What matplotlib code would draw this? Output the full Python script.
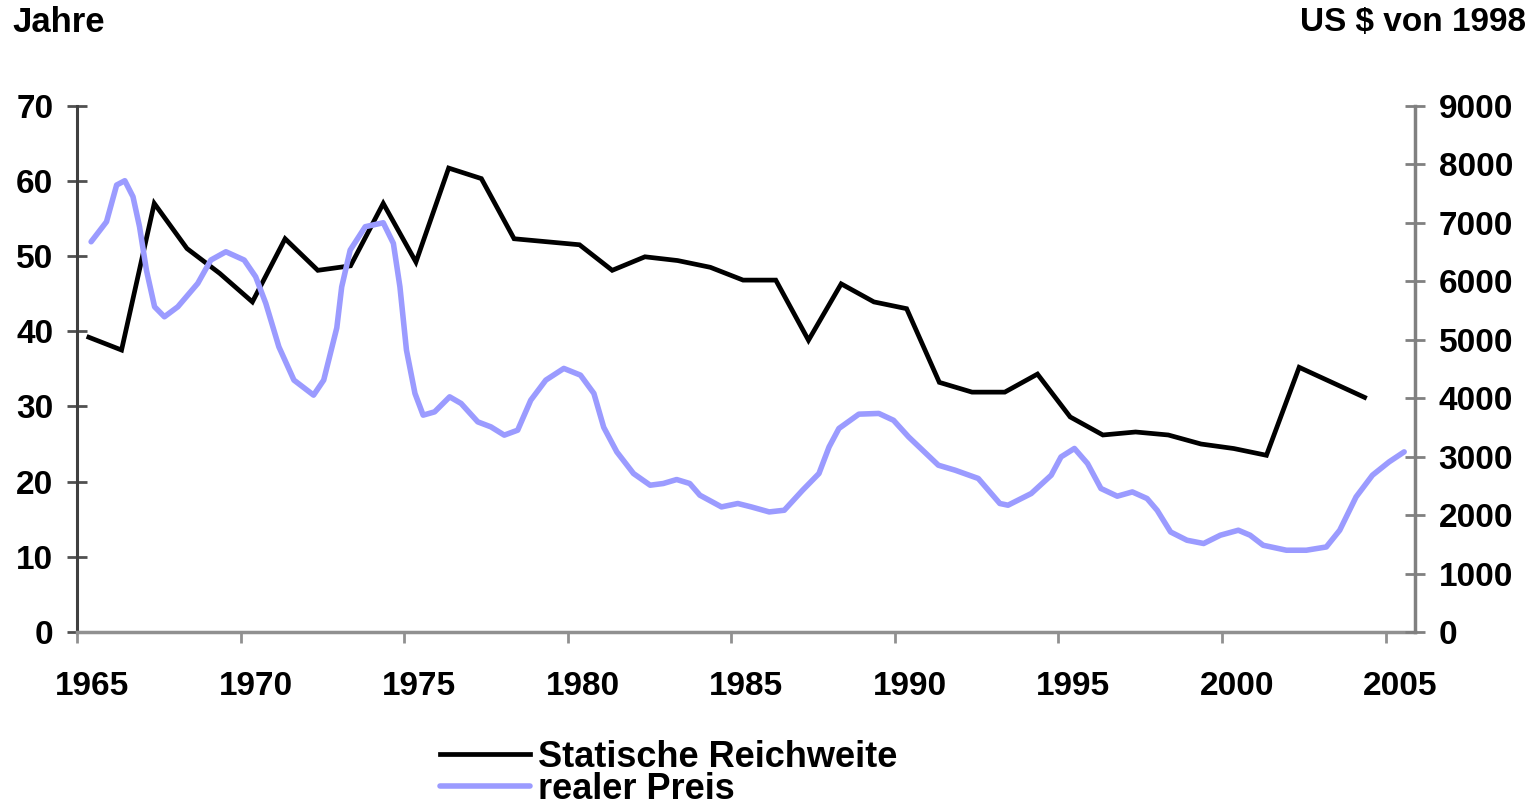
import matplotlib
matplotlib.use("Agg")
import matplotlib.pyplot as plt
import numpy as np
from matplotlib.transforms import ScaledTranslation

plt.rcParams['font.family'] = ['Liberation Sans', 'DejaVu Sans']
plt.rcParams['font.weight'] = 'bold'

# static range (years), one value per year 1965-2004
years = np.arange(1965, 2005)
reichweite = [39.2, 37.5, 57.0, 51.0, 47.7, 43.9, 52.3, 48.1, 48.7, 57.0,
              49.2, 61.7, 60.3, 52.3, 51.9, 51.5, 48.1, 49.9, 49.4, 48.5,
              46.8, 46.8, 38.8, 46.3, 43.9, 43.0, 33.2, 31.9, 31.9, 34.3,
              28.6, 26.2, 26.6, 26.2, 25.0, 24.4, 23.5, 35.2, 33.2, 31.2]

preis_t = [1965.43, 1965.90, 1966.21, 1966.46, 1966.71, 1966.91, 1967.12, 1967.37,
           1967.67, 1968.08, 1968.69, 1969.09, 1969.55, 1970.11, 1970.46, 1970.77,
           1971.17, 1971.63, 1972.23, 1972.54, 1972.94, 1973.09, 1973.35, 1973.81,
           1974.36, 1974.67, 1974.87, 1975.07, 1975.33, 1975.58, 1975.93, 1976.39,
           1976.74, 1977.25, 1977.65, 1978.06, 1978.47, 1978.87, 1979.33, 1979.88,
           1980.39, 1980.80, 1981.10, 1981.50, 1982.01, 1982.52, 1982.92, 1983.33,
           1983.73, 1984.04, 1984.70, 1985.20, 1985.61, 1986.16, 1986.62, 1987.18,
           1987.68, 1987.99, 1988.29, 1988.90, 1989.51, 1989.96, 1990.42, 1991.33,
           1991.84, 1992.55, 1993.21, 1993.46, 1994.17, 1994.78, 1995.08, 1995.49,
           1995.89, 1996.30, 1996.80, 1997.26, 1997.71, 1998.02, 1998.43, 1998.93,
           1999.44, 1999.95, 2000.50, 2000.86, 2001.26, 2001.97, 2002.58, 2003.19,
           2003.60, 2004.10, 2004.60, 2005.11, 2005.57]
preis = [6673, 7015, 7643, 7717, 7443, 6930, 6189, 5561,
         5390, 5561, 5961, 6360, 6502, 6360, 6074, 5619,
         4876, 4307, 4050, 4307, 5200, 5900, 6531, 6930,
         6998, 6645, 5903, 4820, 4079, 3708, 3764, 4021,
         3908, 3593, 3508, 3366, 3451, 3964, 4307, 4507,
         4392, 4079, 3500, 3080, 2710, 2510, 2539, 2607,
         2539, 2339, 2139, 2197, 2139, 2053, 2082, 2424,
         2710, 3165, 3480, 3725, 3737, 3620, 3336, 2852,
         2767, 2625, 2197, 2168, 2368, 2681, 2994, 3138,
         2881, 2454, 2322, 2395, 2282, 2080, 1710, 1569,
         1513, 1655, 1740, 1655, 1483, 1398, 1398, 1454,
         1740, 2310, 2681, 2909, 3080]

xticks = [1965, 1970, 1975, 1980, 1985, 1990, 1995, 2000, 2005]

fig = plt.figure(figsize=(15.35, 8.06), dpi=100)
ax = fig.add_axes([0.0502, 0.2159, 0.8716, 0.653])
ax2 = ax.twinx()

ax.plot(years + 0.36, reichweite, color='black', lw=3.4,
        solid_joinstyle='miter', label='Statische Reichweite')
ax2.plot(preis_t, preis, color='#9b9bff', lw=4.0,
         solid_joinstyle='round', solid_capstyle='round', label='realer Preis')

ax.set_xlim(1965, 2005.9)
ax.set_ylim(0, 70)
ax2.set_ylim(0, 9000)
ax.set_yticks(np.arange(0, 71, 10))
ax2.set_yticks(np.arange(0, 9001, 1000))
ax.set_xticks(xticks)

for a in (ax, ax2):
    a.spines['top'].set_visible(False)
ax.spines['right'].set_visible(False)
ax.spines['left'].set_color('#404040')
ax.spines['left'].set_linewidth(2.2)
ax.spines['bottom'].set_color('#909090')
ax.spines['bottom'].set_linewidth(2.5)
ax2.spines['left'].set_visible(False)
ax2.spines['bottom'].set_visible(False)
ax2.spines['right'].set_color('#808080')
ax2.spines['right'].set_linewidth(2.5)

fs = 24
ax.tick_params(axis='y', direction='inout', length=14, width=2, color='#505050',
               labelsize=fs, pad=10)
ax2.tick_params(axis='y', direction='inout', length=14, width=2, color='#808080',
                labelsize=fs, pad=10)
ax.tick_params(axis='x', direction='out', length=8, width=2, color='#909090',
               labelsize=fs, pad=20)
for lab in ax.get_xticklabels():
    lab.set_transform(lab.get_transform() + ScaledTranslation(0.15, 0, fig.dpi_scale_trans))

fig.text(0.008, 0.972, 'Jahre', fontsize=25, va='center', ha='left')
fig.text(0.994, 0.972, 'US $ von 1998', fontsize=fs, va='center', ha='right')

h1, l1 = ax.get_legend_handles_labels()
h2, l2 = ax2.get_legend_handles_labels()
fig.legend(h1 + h2, l1 + l2, loc='upper left', bbox_to_anchor=(0.2866, 0.082),
           frameon=False, fontsize=26, handlelength=2.5, handletextpad=0.22,
           labelspacing=-0.08, borderpad=0, borderaxespad=0)

fig.savefig('out.png', dpi=100)
